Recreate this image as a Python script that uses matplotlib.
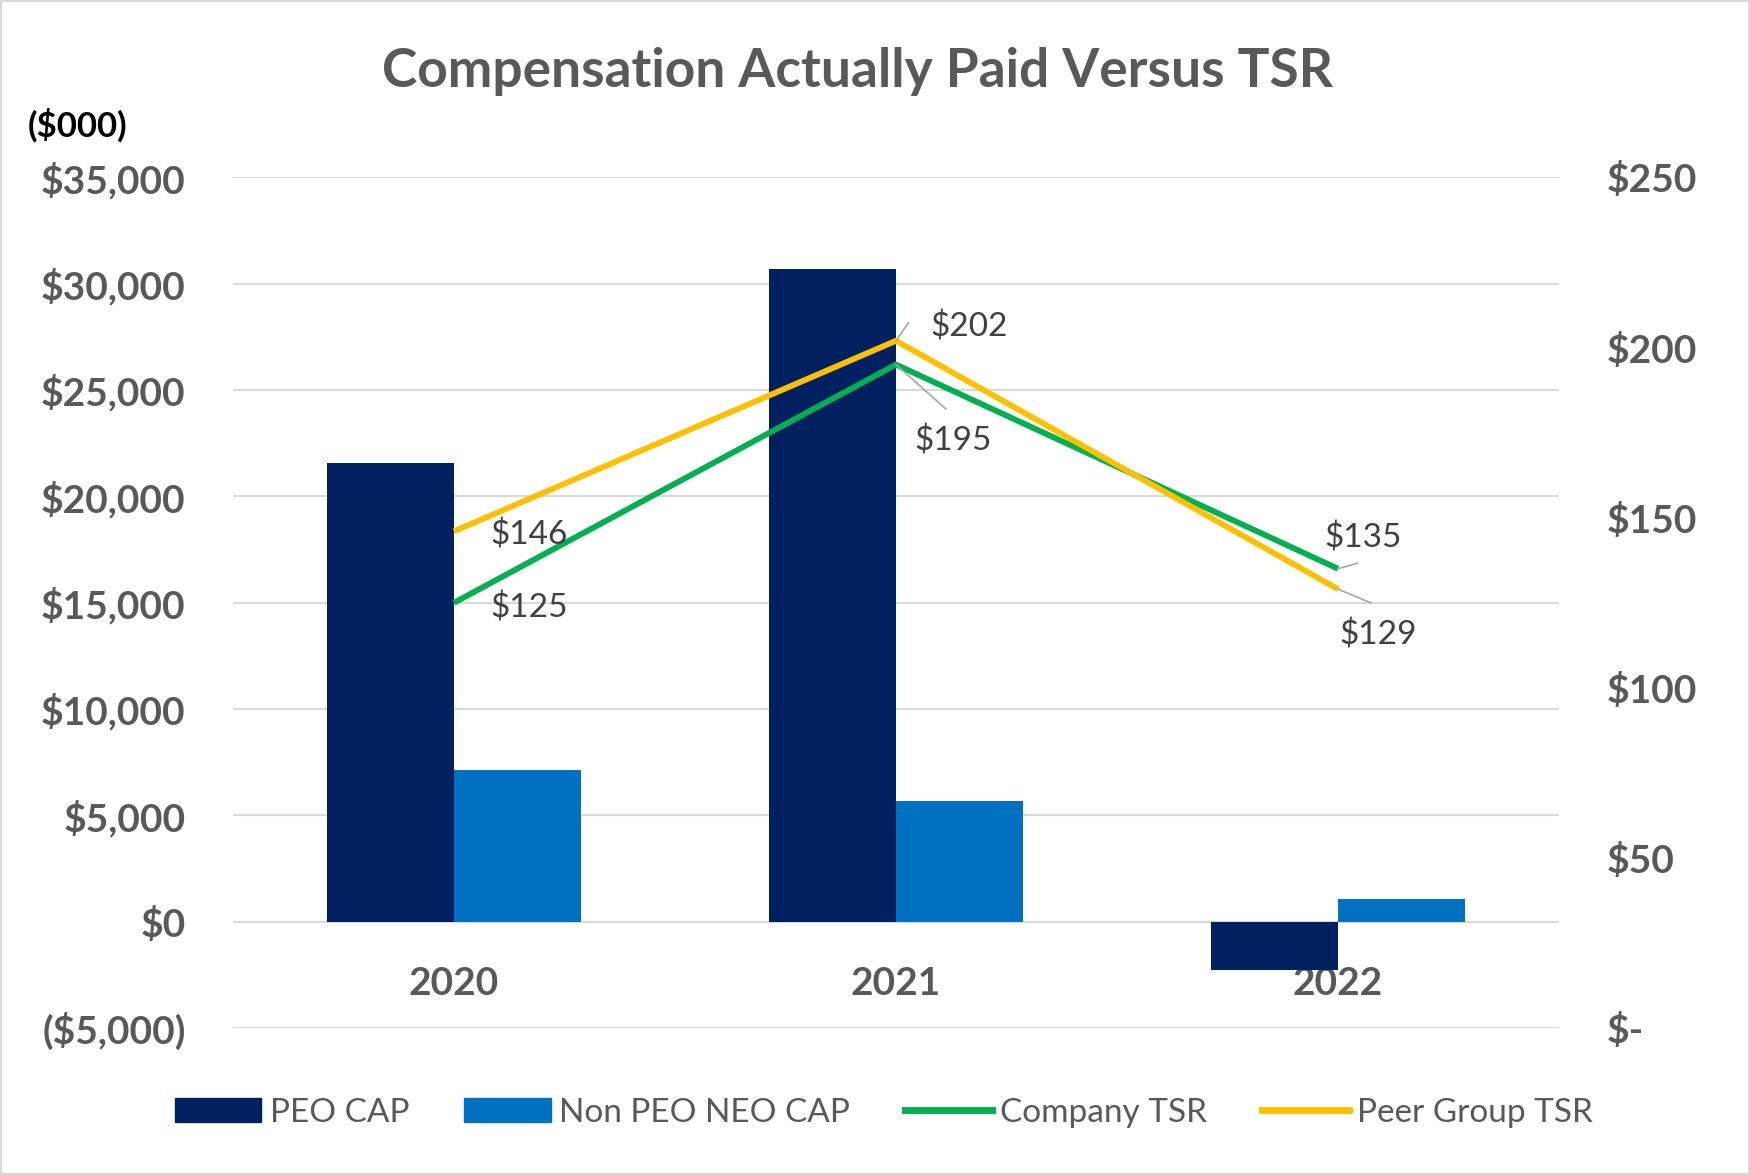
import matplotlib.pyplot as plt
from matplotlib.patches import Rectangle
from matplotlib.lines import Line2D
from matplotlib.patches import Patch

plt.rcParams['font.family'] = ['Lato', 'DejaVu Sans']

years = ['2020', '2021', '2022']
peo_cap = [21560, 30690, -2255]
non_peo_cap = [7135, 5665, 1085]
company_tsr = [125, 195, 135]
peer_tsr = [146, 202, 129]

left_ticks = [-5000, 0, 5000, 10000, 15000, 20000, 25000, 30000, 35000]
right_ticks = [0, 50, 100, 150, 200, 250]

navy = '#002060'
blue = '#0070C0'
green = '#00B050'
gold = '#FFC000'
grey_txt = '#595959'

fig = plt.figure(figsize=(17.5, 11.75), dpi=100)
ax = fig.add_axes([0.1331, 0.125, 0.7578, 0.724])

x = list(range(len(years)))
w = 0.288
ax.bar([i - w / 2 for i in x], peo_cap, width=w, color=navy, zorder=2)
ax.bar([i + w / 2 for i in x], non_peo_cap, width=w, color=blue, zorder=2)

ax.spines['bottom'].set_position(('data', 0))
for s in ax.spines.values():
    s.set_visible(False)
ax.set_xlim(-0.5, 2.5)
ax.set_ylim(-5000, 35000)
ax.set_yticks(left_ticks)
ax.set_yticklabels(['($5,000)' if v < 0 else '$0' if v == 0 else '${:,}'.format(v) for v in left_ticks],
                   fontsize=28, fontweight='bold', color=grey_txt)
ax.yaxis.grid(True, color='#D9D9D9', lw=1.5, zorder=0)
ax.tick_params(axis='y', length=0, pad=34)
ax.set_xticks(x)
ax.set_xticklabels(years, fontsize=28, fontweight='bold', color=grey_txt)
ax.tick_params(axis='x', length=0, pad=32)

ax2 = ax.twinx()
ax2.plot(x, company_tsr, color=green, lw=4.2, solid_capstyle='butt', zorder=3)
ax2.plot(x, peer_tsr, color=gold, lw=4.2, solid_capstyle='butt', zorder=3)
ax2.set_ylim(0, 250)
ax2.set_yticks(right_ticks)
ax2.set_yticklabels(['$-' if v == 0 else '${}'.format(v) for v in right_ticks],
                    fontsize=28, fontweight='bold', color=grey_txt)
ax2.tick_params(axis='y', length=0, pad=34)
for s in ax2.spines.values():
    s.set_visible(False)

# data labels: (text offset, leader line end) in points
company_offsets = [((26, -4), None), ((13, -55), (36, -32)), ((-10, 22), (14, 4))]
peer_offsets = [((26, -3), None), ((25, 10), (9, 13)), ((1, -33), (24, -10))]
for series, offsets in ((company_tsr, company_offsets), (peer_tsr, peer_offsets)):
    for i, v in enumerate(series):
        toff, lend = offsets[i]
        if lend is not None:
            ax2.annotate('', xy=(i, v), xytext=lend, textcoords='offset points',
                         arrowprops=dict(arrowstyle='-', color='#A6A6A6', lw=1.2,
                                         shrinkA=0, shrinkB=0), zorder=4)
        ax2.annotate('${}'.format(v), xy=(i, v), xytext=toff, textcoords='offset points',
                     ha='left', va='center', fontsize=24, color='#404040', zorder=5)

fig.text(0.49, 0.939, 'Compensation Actually Paid Versus TSR', ha='center', va='center',
         fontsize=38.3, fontweight='bold', color=grey_txt)
fig.text(0.016, 0.893, '($000)', ha='left', va='center', fontsize=25, fontweight='bold', color='black')

handles = [Patch(color=navy), Patch(color=blue),
           Line2D([], [], color=green, lw=5), Line2D([], [], color=gold, lw=5)]
labels = ['PEO CAP', 'Non PEO NEO CAP', 'Company TSR', 'Peer Group TSR']
leg = fig.legend(handles, labels, loc='center', bbox_to_anchor=(0.505, 0.053), ncol=4,
                 frameon=False, fontsize=24, handlelength=2.6, handleheight=0.75,
                 handletextpad=0.25, columnspacing=1.65)
for t in leg.get_texts():
    t.set_color(grey_txt)

fig.patches.append(Rectangle((0, 0), 1, 1, transform=fig.transFigure, fill=False,
                             edgecolor='#D9D9D9', lw=3))

fig.savefig('out.png', dpi=100)
